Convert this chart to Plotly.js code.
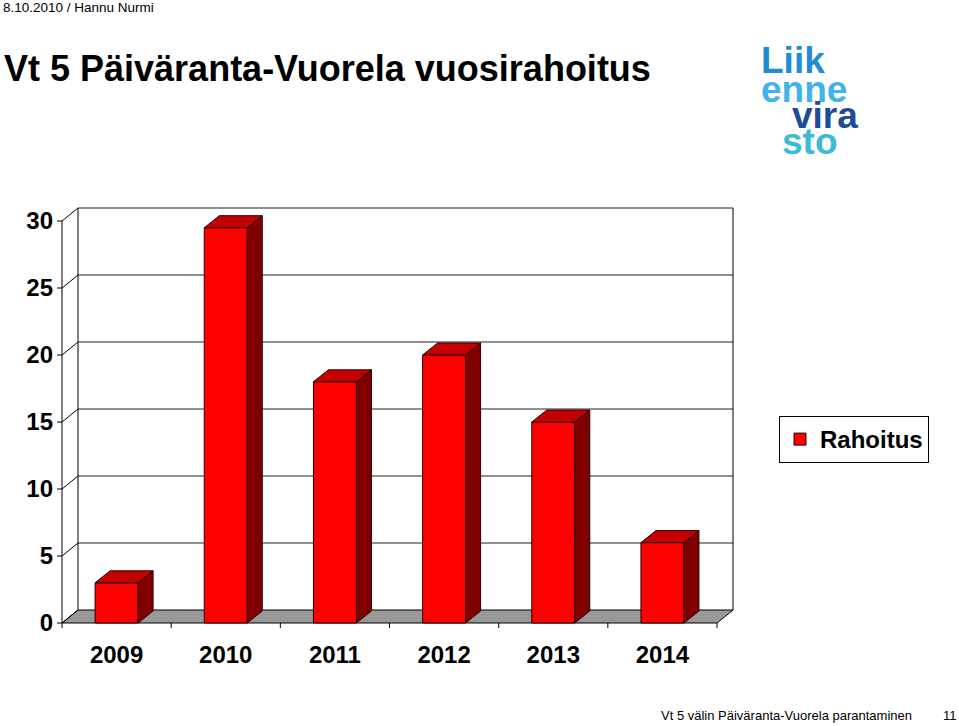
<!DOCTYPE html>
<html>
<head>
<meta charset="utf-8">
<script src="https://cdn.plot.ly/plotly-3.0.1.min.js"></script>
<style>
html,body{margin:0;padding:0;background:#fff;}
#chart{width:959px;height:726px;}
</style>
</head>
<body>
<div id="chart"></div>
<script>
// ---- data ----
const categories = ['2009', '2010', '2011', '2012', '2013', '2014'];
const rahoitus = [3, 29.5, 18, 20, 15, 6];
const yTicks = [0, 5, 10, 15, 20, 25, 30];
const seriesName = 'Rahoitus';

// ---- geometry (layout only) ----
const W = 959, H = 726;
const PXX = 109.17, PXY = 13.4;       // px per category / per unit
const X0 = 62, Y0 = 623;              // pixel of front-left corner (x=-0.5, y=0)
const L = 54, R = 738, T = 204, B = 630; // plot area pixels
const xr = [-0.5 - (X0 - L) / PXX, -0.5 + (R - X0) / PXX];
const yr = [-(B - Y0) / PXY, (Y0 - T) / PXY];
const WDX = 16 / PXX, WDY = 13 / PXY;   // wall depth
const BDX = 15 / PXX, BDY = 12 / PXY;   // bar depth
const BW = 43 / PXX;                     // bar width
const n = categories.length;
const xs = categories.map((c, i) => i);
const xLeft = -0.5, xRight = n - 0.5;
const yMax = yTicks[yTicks.length - 1];

// paper coords helpers for annotations
const plotW = R - L, plotH = B - T;
const px = p => (p - L) / plotW;
const py = p => (B - p) / plotH;

// ---- 3D faces built from data ----
const sideX = [], sideY = [], topX = [], topY = [];
rahoitus.forEach((v, i) => {
  const xl = i - BW / 2, xrr = i + BW / 2;
  sideX.push(xrr, xrr + BDX, xrr + BDX, xrr, xrr, null);
  sideY.push(0, BDY, v + BDY, v, 0, null);
  topX.push(xl, xrr, xrr + BDX, xl + BDX, xl, null);
  topY.push(v, v, v + BDY, v + BDY, v, null);
});

const traces = [
  {
    type: 'bar', x: xs, y: rahoitus, width: BW, name: seriesName,
    marker: {color: '#FF0000', line: {color: '#2a0000', width: 1}},
    hoverinfo: 'skip', showlegend: true
  },
  {
    type: 'scatter', mode: 'lines', x: sideX, y: sideY, fill: 'toself',
    fillcolor: '#800000', line: {color: '#2a0000', width: 1},
    hoverinfo: 'skip', showlegend: false
  },
  {
    type: 'scatter', mode: 'lines', x: topX, y: topY, fill: 'toself',
    fillcolor: '#C40000', line: {color: '#2a0000', width: 1},
    hoverinfo: 'skip', showlegend: false
  }
];

// ---- walls, floor, grid, ticks as shapes ----
const shapes = [];
const ln = (x0, y0, x1, y1, color, layer) => shapes.push({
  type: 'line', xref: 'x', yref: 'y', x0, y0, x1, y1,
  line: {color: color || '#000', width: 1}, layer: layer || 'below'
});
// floor
shapes.push({
  type: 'path', xref: 'x', yref: 'y', layer: 'below',
  path: `M ${xLeft},0 L ${xRight},0 L ${xRight + WDX},${WDY} L ${xLeft + WDX},${WDY} Z`,
  fillcolor: '#999999', line: {color: '#000', width: 1}
});
// back wall gridlines
yTicks.forEach(v => { if (v > 0) ln(xLeft + WDX, v + WDY, xRight + WDX, v + WDY, '#222'); });
// back wall verticals
ln(xLeft + WDX, WDY, xLeft + WDX, yMax + WDY);
ln(xRight + WDX, WDY, xRight + WDX, yMax + WDY);
// left wall diagonals
yTicks.forEach(v => ln(xLeft, v, xLeft + WDX, v + WDY));
// front axis
ln(xLeft, 0, xLeft, yMax);
// y ticks
yTicks.forEach(v => ln(xLeft - 5 / PXX, v, xLeft, v));
// x ticks at category boundaries
for (let k = 0; k <= n; k++) ln(k - 0.5, 0, k - 0.5, -5 / PXY);

const FONT = 'Liberation Sans, Arial, sans-serif';
const logoFont = c => ({family: FONT, size: 37, color: c, weight: 'bold'});

const annotations = [
  {text: '8.10.2010 / Hannu Nurmi', xref: 'paper', yref: 'paper', x: px(1), y: py(7),
   xanchor: 'left', yanchor: 'middle', showarrow: false,
   font: {family: FONT, size: 13.5, color: '#000'}},
  {text: 'Vt 5 välin Päiväranta-Vuorela parantaminen', xref: 'paper', yref: 'paper',
   x: px(659), y: py(715.5), xanchor: 'left', yanchor: 'middle', showarrow: false,
   font: {family: FONT, size: 13, color: '#000'}},
  {text: '11', xref: 'paper', yref: 'paper', x: px(959), y: py(715.5),
   xanchor: 'right', yanchor: 'middle', showarrow: false,
   font: {family: FONT, size: 13, color: '#000'}},
  // logo
  {text: 'Liik', xref: 'paper', yref: 'paper', x: px(759), y: py(61),
   xanchor: 'left', yanchor: 'middle', showarrow: false, font: logoFont('#1F8DD6')},
  {text: 'enne', xref: 'paper', yref: 'paper', x: px(759), y: py(89),
   xanchor: 'left', yanchor: 'middle', showarrow: false, font: logoFont('#3FB4EC')},
  {text: 'vira', xref: 'paper', yref: 'paper', x: px(860), y: py(116),
   xanchor: 'right', yanchor: 'middle', showarrow: false, font: logoFont('#1D4C99')},
  {text: 'sto', xref: 'paper', yref: 'paper', x: px(780), y: py(142),
   xanchor: 'left', yanchor: 'middle', showarrow: false, font: logoFont('#3DB9DA')}
];

const layout = {
  width: W, height: H,
  margin: {l: L, r: W - R, t: T, b: H - B, pad: 0},
  paper_bgcolor: '#fff', plot_bgcolor: '#fff',
  title: {
    text: '<b>Vt 5 Päiväranta-Vuorela vuosirahoitus</b>',
    xref: 'container', yref: 'container', x: 4 / W, xanchor: 'left',
    y: 1 - 68.4 / H, yanchor: 'middle',
    font: {family: FONT, size: 36, color: '#000'}
  },
  xaxis: {
    range: xr, type: 'linear', showgrid: false, zeroline: false, showline: false,
    tickvals: xs, ticktext: categories, ticks: '', ticklabelstandoff: 8,
    tickfont: {family: FONT, size: 24, color: '#000', weight: 'bold'},
    fixedrange: true
  },
  yaxis: {
    range: yr, showgrid: false, zeroline: false, showline: false,
    tickvals: yTicks, ticktext: yTicks.map(String), ticks: '',
    tickfont: {family: FONT, size: 24, color: '#000', weight: 'bold'},
    fixedrange: true
  },
  bargap: 0,
  showlegend: true,
  legend: {
    xref: 'container', yref: 'container', x: 779 / W, y: 1 - 416 / H,
    xanchor: 'left', yanchor: 'top',
    bordercolor: '#000', borderwidth: 1, bgcolor: '#fff',
    font: {family: FONT, size: 24, color: '#000', weight: 'bold'},
    itemwidth: 30
  },
  shapes, annotations
};

Plotly.newPlot('chart', traces, layout, {displayModeBar: false, staticPlot: true});
</script>
</body>
</html>
